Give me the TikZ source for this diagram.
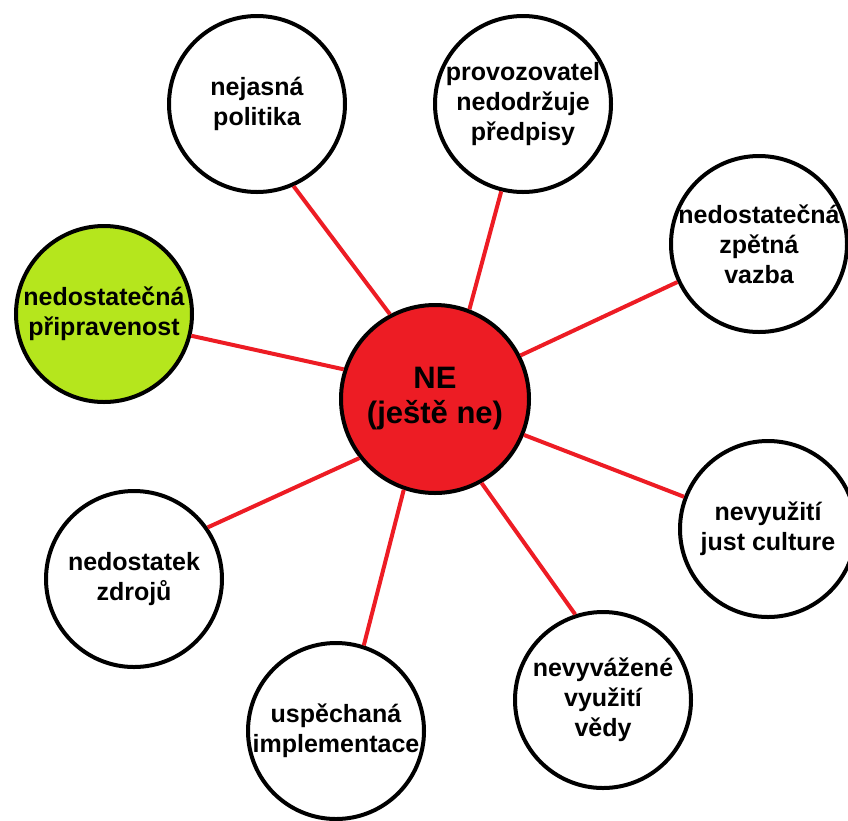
\documentclass[tikz,border=0pt]{standalone}
\usepackage{fontspec}
\setmainfont{Liberation Sans}
\usepackage{xcolor}
\usepackage{tikz}
\definecolor{nered}{HTML}{ED1C24}
\definecolor{prepgreen}{HTML}{B5E61D}

\begin{document}
\begin{tikzpicture}[x=1pt,y=-1pt,
    bubble/.style={circle,draw=black,line width=4pt,fill=white,minimum size=176pt,
      inner sep=-4pt,align=center,font=\fontsize{25}{30}\selectfont\bfseries},
    link/.style={draw=nered,line width=4pt}]
      \useasboundingbox (0,0) rectangle (848,820);
      \node[bubble,fill=nered,minimum size=188pt,
        font=\fontsize{31}{35}\selectfont\bfseries] (NE) at (435,399) {NE\\(ještě ne)};
      \node[bubble] (NP) at (257,104) {nejasná\\politika};
      \node[bubble] (PN) at (523,104) {provozovatel\\nedodržuje\\předpisy};
      \node[bubble] (ZV) at (759,244) {nedostatečná\\zpětná\\vazba};
      \node[bubble,fill=prepgreen] (PR) at (104,314) {nedostatečná\\připravenost};
      \node[bubble] (JC) at (768,529) {nevyužití\\just culture};
      \node[bubble] (NZ) at (134,579) {nedostatek\\zdrojů};
      \node[bubble] (UI) at (336,731) {uspěchaná\\implementace};
      \node[bubble] (VV) at (603,700) {nevyvážené\\využití\\vědy};
        % red spokes
      \draw[link] (NE.118) -- (NP.-66);
      \draw[link] (NE.69) -- (PN.256);
      \draw[link] (NE.27) -- (ZV.205);
      \draw[link] (NE.162) -- (PR.-14);
      \draw[link] (NE.-22) -- (JC.159);
      \draw[link] (NE.218) -- (NZ.35);
      \draw[link] (NE.251) -- (UI.72);
      \draw[link] (NE.-61) -- (VV.108);
\end{tikzpicture}
\end{document}
